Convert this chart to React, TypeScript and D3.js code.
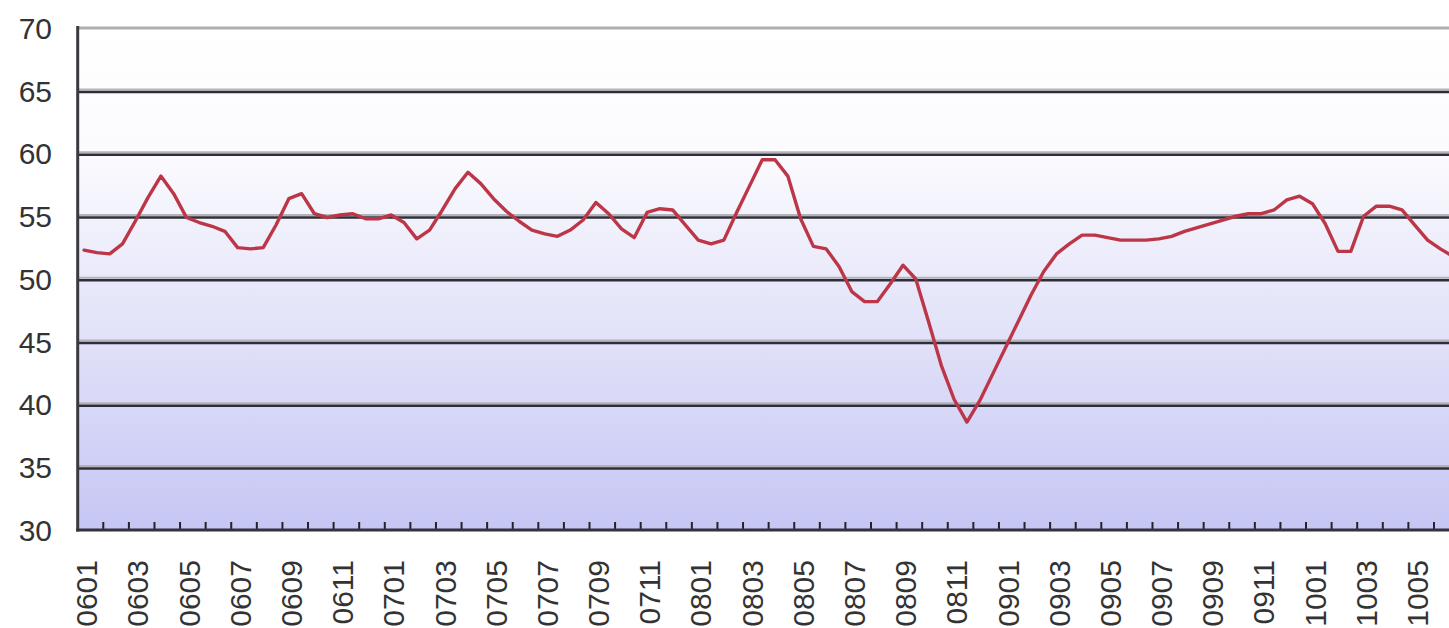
import React from 'react';
import * as d3 from 'd3';

// months on the category axis (yymm)
const months = [
  '0601', '0602', '0603', '0604', '0605', '0606', '0607', '0608', '0609', '0610', '0611', '0612',
  '0701', '0702', '0703', '0704', '0705', '0706', '0707', '0708', '0709', '0710', '0711', '0712',
  '0801', '0802', '0803', '0804', '0805', '0806', '0807', '0808', '0809', '0810', '0811', '0812',
  '0901', '0902', '0903', '0904', '0905', '0906', '0907', '0908', '0909', '0910', '0911', '0912',
  '1001', '1002', '1003', '1004', '1005', '1006',
];

// two readings per month (first half, second half)
const halfMonthValues = [
  52.3, 52.1, 52.0, 52.8, 54.6, 56.5, 58.2, 56.8, 54.9, 54.5, 54.2, 53.8,
  52.5, 52.4, 52.5, 54.3, 56.4, 56.8, 55.2, 54.9, 55.1, 55.2, 54.8, 54.8,
  55.1, 54.5, 53.2, 53.9, 55.5, 57.2, 58.5, 57.6, 56.4, 55.4, 54.6, 53.9,
  53.6, 53.4, 53.9, 54.7, 56.1, 55.2, 54.0, 53.3, 55.3, 55.6, 55.5, 54.3,
  53.1, 52.8, 53.1, 55.3, 57.4, 59.5, 59.5, 58.2, 54.8, 52.6, 52.4, 51.0,
  49.0, 48.2, 48.2, 49.6, 51.1, 50.0, 46.6, 43.1, 40.4, 38.6, 40.3, 42.4,
  44.5, 46.6, 48.7, 50.6, 52.0, 52.8, 53.5, 53.5, 53.3, 53.1, 53.1, 53.1,
  53.2, 53.4, 53.8, 54.1, 54.4, 54.7, 55.0, 55.2, 55.2, 55.5, 56.3, 56.6,
  56.0, 54.4, 52.2, 52.2, 55.0, 55.8, 55.8, 55.5, 54.3, 53.1, 52.4, 51.8,
];

const yTicks = [30, 35, 40, 45, 50, 55, 60, 65, 70];

const W = 1449;
const H = 628;
const left = 77.7;
const top = 28;
const bottom = 530;
const monthW = 25.59;

export default function App() {
  const x = d3.scaleLinear().domain([0, months.length]).range([left, left + monthW * months.length]);
  const y = d3.scaleLinear().domain([30, 70]).range([bottom, top]);

  const line = d3.line<number>()
    .x((_, i) => x(0.25 + i * 0.5))
    .y(d => y(d));

  const font = '"Liberation Sans", Arial, sans-serif';
  const right = x(months.length);

  return (
    <div style={{ position: 'absolute', left: 0, top: 0 }}>
      <svg width={W} height={H} style={{ display: 'block', background: '#fff' }}>
        <defs>
          <linearGradient id="bg" x1="0" y1="0" x2="0" y2="1">
            <stop offset="0%" stopColor="#ffffff" />
            <stop offset="25%" stopColor="#fbfbfe" />
            <stop offset="100%" stopColor="#c6c6f4" />
          </linearGradient>
        </defs>

        <rect x={left} y={top} width={right - left} height={bottom - top} fill="url(#bg)" />

        {/* grid lines */}
        {yTicks.slice(1).map(t => (
          t === 70 ? (
            <line key={t} x1={left} x2={right} y1={y(t)} y2={y(t)} stroke="#b0b0b0" strokeWidth={3} />
          ) : (
            <g key={t}>
              <line x1={left} x2={right} y1={y(t) - 1.2} y2={y(t) - 1.2} stroke="#b4b4b8" strokeWidth={2} />
              <line x1={left} x2={right} y1={y(t) + 1.2} y2={y(t) + 1.2} stroke="#2e2e3a" strokeWidth={2.6} />
            </g>
          )
        ))}

        {/* category ticks, inside */}
        {d3.range(1, months.length + 1).map(i => (
          <line key={i} x1={x(i)} x2={x(i)} y1={bottom - 8} y2={bottom} stroke="#22222e" strokeWidth={2} />
        ))}

        {/* axes */}
        <line x1={left} x2={left} y1={top - 2} y2={bottom + 1.5} stroke="#3a3a40" strokeWidth={3} />
        <line x1={left - 1.5} x2={right} y1={bottom} y2={bottom} stroke="#33333c" strokeWidth={3} />

        {/* series */}
        <path d={line(halfMonthValues) ?? ''} fill="none" stroke="#bd3647" strokeWidth={3.4}
          strokeLinejoin="round" strokeLinecap="round" />

        {/* y labels */}
        {yTicks.map(t => (
          <text key={t} x={52} y={y(t)} dy="0.36em" textAnchor="end" fontFamily={font}
            fontSize={30} fill="#333">{t}</text>
        ))}

        {/* x labels, every other month */}
        {months.map((m, i) => (i % 2 === 0 ? (
          <text key={m} transform={`translate(${x(i + 0.5) - 4},560) rotate(-90)`} dy="0.36em"
            textAnchor="end" fontFamily={font} fontSize={30} fill="#333">{m}</text>
        ) : null))}
      </svg>
    </div>
  );
}
